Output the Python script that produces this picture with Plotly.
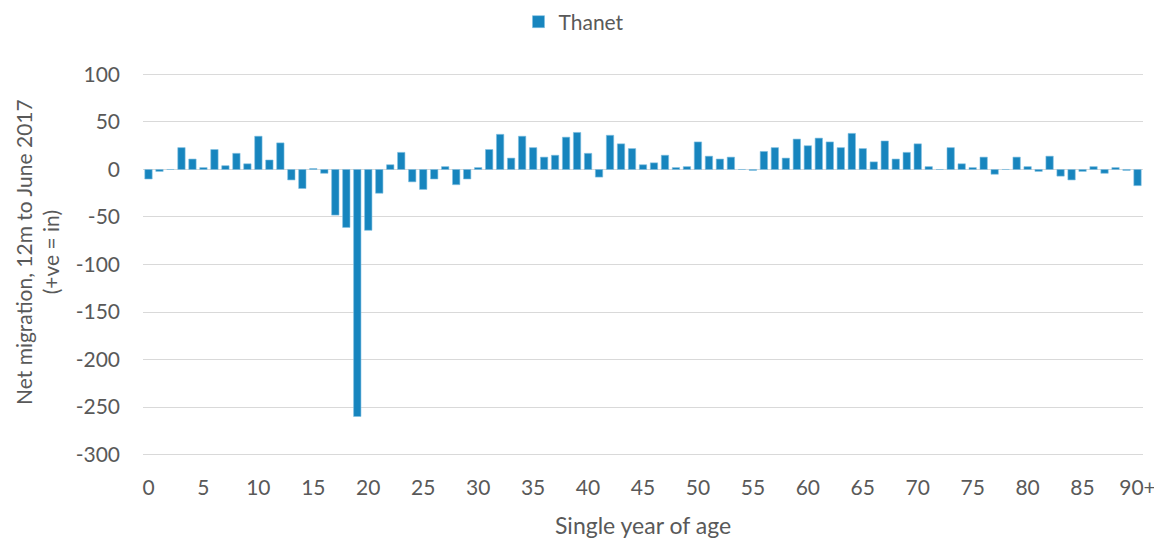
import plotly.graph_objects as go

ages = [str(i) for i in range(90)] + ["90+"]
net_migration = [
    -10, -2, 0, 23, 11, 2, 21, 4, 17, 6,
    35, 10, 28, -11, -20, 1, -4, -48, -61, -260,
    -64, -25, 5, 18, -13, -21, -10, 3, -16, -10,
    2, 21, 37, 12, 35, 23, 13, 15, 34, 39,
    17, -8, 36, 27, 22, 5, 7, 15, 2, 3,
    29, 14, 11, 13, 0, -1, 19, 23, 12, 32,
    25, 33, 29, 23, 38, 22, 8, 30, 11, 18,
    27, 3, 0, 23, 6, 2, 13, -5, 0, 13,
    3, -2, 14, -7, -11, -2, 3, -4, 2, -1,
    -17,
]
x_tick_labels = ["0", "5", "10", "15", "20", "25", "30", "35", "40", "45",
                 "50", "55", "60", "65", "70", "75", "80", "85", "90+"]
y_ticks = [100, 50, 0, -50, -100, -150, -200, -250, -300]
y_tick_labels = ["100", "50", "0", "-50", "-100", "-150", "-200", "-250", "-300"]

font_family = "Lato, 'Open Sans', sans-serif"
text_color = "#595959"
grid_color = "#D9D9D9"

# page body has an 8px margin, so the figure is drawn offset by (8, 8)
W, H = 1154, 530

fig = go.Figure()
fig.add_trace(go.Bar(
    x=ages, y=net_migration, name="Thanet",
    marker=dict(color="#1785BE", line=dict(color="#7FBFE0", width=0.6)),
    showlegend=True,
))

# gridlines at the axis ends (plotly omits them at the range edges)
edge_shapes = [
    dict(type="line", xref="paper", yref="y", x0=0, x1=1, y0=v, y1=v,
         line=dict(color=grid_color, width=1), layer="below")
    for v in (y_ticks[0], y_ticks[-1])
]

fig.update_layout(
    width=W, height=H,
    margin=dict(l=135, r=19, t=66, b=83, autoexpand=False),
    plot_bgcolor="white", paper_bgcolor="white",
    bargap=0.33,
    font=dict(family=font_family, size=20, color=text_color),
    showlegend=True,
    legend=dict(
        orientation="h", xref="container", yref="container",
        x=566 / W, xanchor="center", y=1 - 14 / H, yanchor="middle",
        font=dict(size=21, color=text_color),
        itemwidth=30,
    ),
    xaxis=dict(
        type="category", tickmode="array", tickvals=x_tick_labels, ticktext=x_tick_labels,
        showgrid=False, showline=False, ticks="", tickangle=0, automargin=False,
        ticklabelstandoff=18,
        tickfont=dict(size=21, color=text_color),
    ),
    yaxis=dict(
        range=[-300.5, 100.5], tickmode="array", tickvals=y_ticks, ticktext=y_tick_labels,
        showgrid=True, gridcolor=grid_color, gridwidth=1,
        zeroline=True, zerolinecolor=grid_color, zerolinewidth=1,
        showline=False, ticks="", automargin=False,
        ticklabelstandoff=22,
        tickfont=dict(size=21, color=text_color),
    ),
    shapes=edge_shapes,
    annotations=[
        dict(text="Single year of age", xref="paper", yref="paper",
             x=0.5, y=(455 - 525) / 381, xanchor="center", yanchor="middle",
             showarrow=False, font=dict(size=23, color=text_color)),
        dict(text="Net migration, 12m to June 2017<br>(+ve = in)", xref="paper", yref="paper",
             x=(37 - 143) / 1000, y=(455 - 252) / 381, xanchor="center", yanchor="middle",
             textangle=-90, showarrow=False, font=dict(size=21, color=text_color)),
    ],
)

fig.write_html("out.html")
